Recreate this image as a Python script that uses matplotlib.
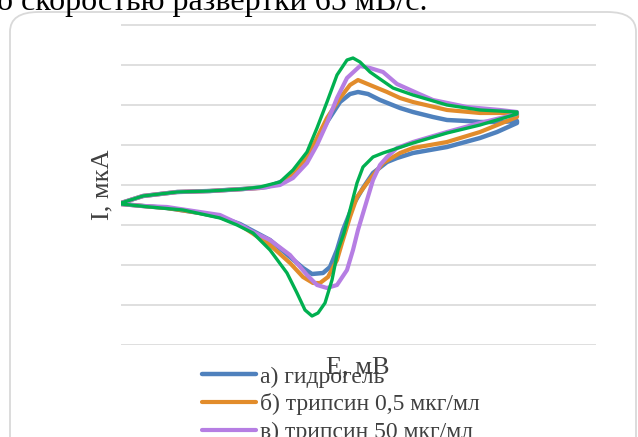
import matplotlib.pyplot as plt
from matplotlib.patches import FancyBboxPatch

plt.rcParams['font.family'] = ['Liberation Serif', 'DejaVu Serif']

# E, мВ and I, мкА (closed CV loops)
E_a = [-200, -156, -88, -22, 44, 92, 124, 158, 184, 212, 238, 258, 274, 294, 318, 358, 384, 424, 452, 492, 518, 558, 592,
       592, 552, 518, 452, 384, 352, 332, 304, 284, 264, 244, 232, 218, 204, 182, 164, 138, 98, 38, -2, -42, -108, -156, -200]
I_a = [-4.5, -2.75, -1.75, -1.5, -1.0, -0.5, 1.0, 4.25, 9.25, 15.75, 20.75, 22.75, 23.25, 22.75, 21.25, 19.25, 18.25, 17.0, 16.25, 16.0, 15.75, 15.75, 16.0,
       15.5, 13.25, 11.75, 9.5, 8.0, 6.75, 5.75, 3.0, -0.75, -5.0, -11.25, -16.25, -20.5, -22.0, -22.25, -20.75, -18.0, -13.75, -9.75, -8.0, -7.0, -5.75, -5.25, -4.75]

E_b = [-200, -156, -88, -22, 44, 78, 118, 144, 172, 192, 212, 238, 258, 274, 298, 332, 358, 384, 452, 518, 584, 592,
       592, 518, 452, 384, 358, 324, 292, 272, 258, 242, 232, 214, 198, 184, 164, 138, 98, 38, -2, -42, -108, -156, -200]
I_b = [-4.5, -2.75, -1.75, -1.5, -1.0, -0.75, 0.5, 2.5, 6.75, 11.75, 16.75, 21.75, 25.0, 26.25, 25.0, 23.25, 21.75, 20.75, 18.75, 18.0, 18.0, 17.75,
       17.0, 13.25, 10.75, 9.25, 8.0, 5.5, 0.5, -3.0, -8.0, -14.5, -18.75, -23.0, -24.5, -24.5, -23.0, -19.5, -15.0, -10.0, -8.0, -7.0, -5.75, -5.25, -4.75]

E_c = [-200, -156, -88, -22, 44, 78, 118, 144, 172, 192, 212, 232, 252, 278, 298, 324, 352, 392, 424, 492, 558, 592,
       592, 518, 452, 384, 352, 332, 318, 304, 292, 274, 264, 252, 232, 212, 192, 172, 138, 98, 64, 32, -2, -42, -108, -156, -200]
I_c = [-4.5, -2.75, -1.75, -1.5, -1.0, -0.75, 0.0, 1.75, 5.5, 10.0, 15.5, 21.75, 26.75, 29.75, 29.25, 28.25, 25.25, 23.0, 21.25, 19.5, 18.75, 18.25,
       17.75, 15.5, 13.25, 10.75, 9.25, 7.0, 5.0, 1.25, -3.75, -11.25, -16.25, -21.25, -25.0, -25.75, -25.0, -22.5, -17.5, -13.75, -11.75, -9.5, -7.5, -6.75, -5.5, -5.25, -4.75]

E_d = [-200, -156, -88, -22, 44, 78, 118, 144, 172, 192, 212, 232, 252, 264, 278, 298, 318, 344, 384, 452, 518, 592,
       592, 518, 452, 384, 324, 304, 284, 272, 258, 246, 234, 222, 208, 194, 182, 168, 152, 132, 98, 64, 32, -2, -76, -142, -200]
I_d = [-4.5, -2.75, -1.75, -1.5, -1.0, -0.5, 0.75, 3.75, 8.25, 14.25, 20.75, 27.5, 31.25, 31.75, 30.75, 28.25, 26.5, 24.25, 22.5, 20.0, 18.75, 18.25,
       17.75, 15.0, 13.0, 10.5, 8.0, 7.0, 4.5, 0.5, -6.25, -12.0, -16.25, -23.75, -29.5, -32.0, -32.75, -31.25, -27.0, -22.0, -16.25, -12.0, -10.0, -8.25, -6.25, -5.5, -4.75]

labels = ["а) гидрогель", "б) трипсин 0,5 мкг/мл", "в) трипсин 50 мкг/мл", "г) трипсин 500 мкг/мл"]
colors = ["#4f81bd", "#e28c2b", "#b67ee3", "#00b050"]

fig = plt.figure(figsize=(6.38, 4.37), dpi=100)

frame = FancyBboxPatch((10 / 638, -0.1), 626 / 638, 1.1 - 12 / 437,
                       boxstyle="round,pad=0,rounding_size=0.045",
                       transform=fig.transFigure, fc="white", ec="#d9d9d9", lw=1.3, zorder=-5)
fig.patches.append(frame)

fig.text(-0.005, 1 - 10 / 437, "о скоростью развертки 65 мВ/с.", fontsize=23, va="baseline", ha="left")

ax = fig.add_axes([121 / 638, 1 - 345 / 437, 475 / 638, 321 / 437])
ax.set_facecolor("none")
for y in range(-40, 41, 10):
    ax.axhline(y, color="#d9d9d9", lw=1.2, zorder=0)

style = dict(solid_capstyle="round", solid_joinstyle="round")
ax.plot(E_a, I_a, color=colors[0], lw=3.2, label=labels[0], **style)
ax.plot(E_b, I_b, color=colors[1], lw=3.0, label=labels[1], **style)
ax.plot(E_c, I_c, color=colors[2], lw=3.0, label=labels[2], **style)
ax.plot(E_d, I_d, color=colors[3], lw=2.4, label=labels[3], **style)

ax.set_xlim(-200, 750)
ax.set_ylim(-40, 40.25)
ax.set_xticks([])
ax.set_yticks([])
for s in ax.spines.values():
    s.set_visible(False)

fig.text(102 / 638, 1 - 185 / 437, "I, мкА", rotation=90, fontsize=19, color="#404040",
         ha="center", va="center")
fig.text(358 / 638, 1 - 367 / 437, "E, мВ", fontsize=19, color="#404040", ha="center", va="center")

ax.legend(loc="upper left", bbox_to_anchor=(202 / 638, 1 - 366 / 437), bbox_transform=fig.transFigure,
          frameon=False, fontsize=17, handlelength=2.3, handletextpad=0.15, labelspacing=0.25,
          borderpad=0, borderaxespad=0, labelcolor="#404040")

fig.savefig("out.png", dpi=100)
